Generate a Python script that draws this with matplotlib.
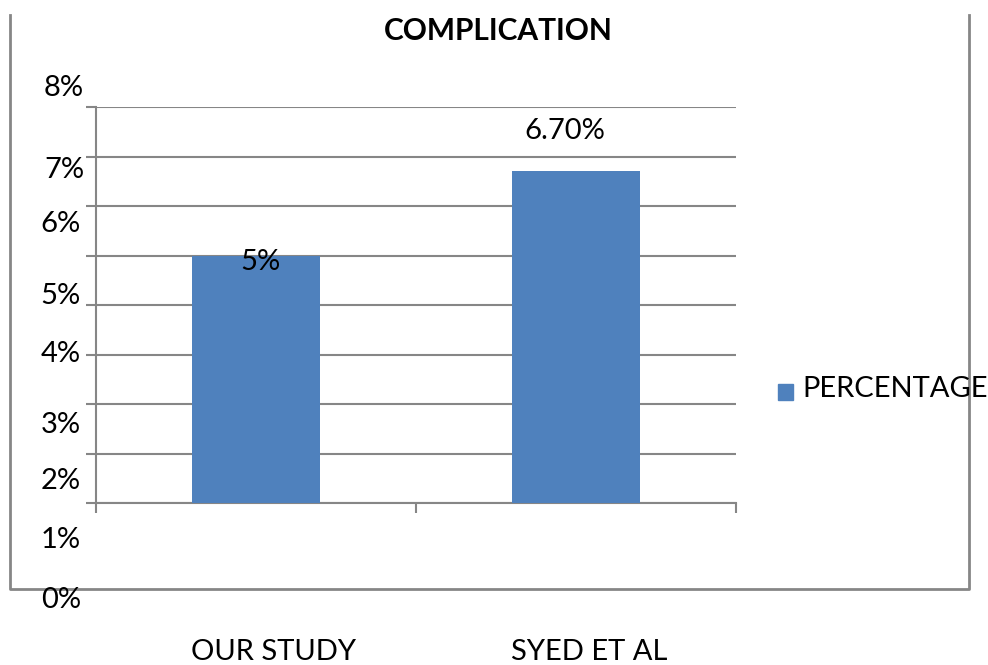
import matplotlib.pyplot as plt
from matplotlib.lines import Line2D

# chart values
categories = ["OUR STUDY", "SYED ET AL"]
values = [5.0, 6.7]
value_labels = ["5%", "6.70%"]
ytick_values = [0, 1, 2, 3, 4, 5, 6, 7, 8]
ytick_labels = ["0%", "1%", "2%", "3%", "4%", "5%", "6%", "7%", "8%"]
series_name = "PERCENTAGE"
title = "COMPLICATION"

W, H = 988, 665
BAR_COLOR = "#4F81BD"
GRID_COLOR = "#868686"

plt.rcParams["font.family"] = ["Lato", "DejaVu Sans"]

fig = plt.figure(figsize=(W / 100, H / 100), dpi=100)

# plot area in pixel terms of the screenshot
left, right, top, bottom = 96, 736, 107, 503
ax = fig.add_axes([left / W, 1 - bottom / H, (right - left) / W, (bottom - top) / H])

x = list(range(len(categories)))
ax.bar(x, values, width=0.4, color=BAR_COLOR, zorder=3)
ax.set_xlim(-0.5, len(categories) - 0.5)
ax.set_ylim(0, 8)

ax.set_yticks(ytick_values)
ax.yaxis.grid(True, color=GRID_COLOR, linewidth=1.5)
ax.set_axisbelow(True)
ax.tick_params(axis="y", length=7, width=1.5, color=GRID_COLOR, labelleft=False)
ax.set_xticks([i - 0.5 for i in range(len(categories) + 1)])
ax.tick_params(axis="x", length=7, width=1.5, color=GRID_COLOR, labelbottom=False)
for s in ["top", "right"]:
    ax.spines[s].set_visible(False)
for s in ["left", "bottom"]:
    ax.spines[s].set_color(GRID_COLOR)
    ax.spines[s].set_linewidth(1.5)

# value labels (offsets in points, as they sit in the original)
label_offsets = [(3, -5), (-8, 29)]
for xi, v, lab, off in zip(x, values, value_labels, label_offsets):
    ax.annotate(lab, (xi, v), xytext=off, textcoords="offset points",
                ha="center", va="center", fontsize=21)

# y tick labels drawn where the original left them (pixel centers)
ytick_label_y = [600, 540, 481, 425, 354, 296, 224, 170, 88]
ytick_label_x = [81, 81, 81, 81, 81, 81, 81, 84, 84]
for lab, yp, xp in zip(ytick_labels, ytick_label_y, ytick_label_x):
    fig.text(xp / W, 1 - yp / H, lab, ha="right", va="center", fontsize=21)

# category labels below the frame
cat_label_x = [273, 589]
for lab, xp in zip(categories, cat_label_x):
    fig.text(xp / W, 1 - 652 / H, lab, ha="center", va="center", fontsize=21)

fig.text(498 / W, 1 - 31 / H, title, ha="center", va="center",
         fontsize=21.5, fontweight="bold")

# legend
fig.patches.append(plt.Rectangle((778 / W, 1 - 400 / H), 15 / W, 16 / H,
                                 transform=fig.transFigure, color=BAR_COLOR))
fig.text(802 / W, 1 - 389 / H, series_name, ha="left", va="center", fontsize=21)

# outer chart frame (left, bottom, right edges)
fx0, fx1, fy0, fy1 = 10, 969, 15, 589
frame = Line2D([fx0 / W, fx0 / W, fx1 / W, fx1 / W],
               [1 - fy0 / H, 1 - fy1 / H, 1 - fy1 / H, 1 - fy0 / H],
               transform=fig.transFigure, color=GRID_COLOR, linewidth=2)
fig.lines.append(frame)

fig.savefig("out.png", dpi=100)
